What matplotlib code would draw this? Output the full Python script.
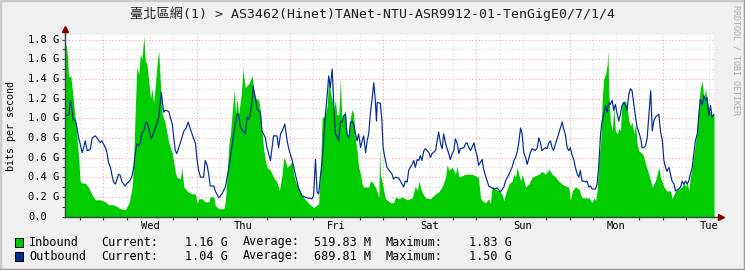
import matplotlib.pyplot as plt
import numpy as np
from matplotlib.patches import Rectangle
from matplotlib.lines import Line2D
from matplotlib.transforms import blended_transform_factory

# hours since the left edge of the graph (Tue ~14:00), values in Gbit/s
in_hours = [0.0, 0.3, 0.7, 0.9, 1.5, 2.0, 2.5, 3.0, 3.5, 3.9, 4.4, 5.2, 6.0, 7.0, 7.8, 9.1,
            10.4, 11.2, 12.5, 13.4, 14.2, 15.5, 16.0, 16.5, 17.3, 17.7, 18.1, 18.5, 19.0,
            19.4, 19.8, 20.3, 20.7, 21.1, 21.5, 22.0, 22.4, 22.8, 23.3, 23.7, 24.1, 24.5,
            25.0, 25.8, 26.7, 27.6, 28.4, 28.8, 29.7, 30.1, 30.6, 31.7, 32.7,
            33.6, 34.0, 34.4, 35.3, 36.1, 37.0, 37.4, 38.3, 38.7, 39.6, 40.9, 41.3, 41.7,
            42.2, 42.6, 43.0, 43.6, 43.9, 44.3, 44.7, 45.4, 45.8, 46.4, 47.3, 48.2, 48.6,
            49.0, 49.9, 50.3, 50.7, 51.2, 51.6, 52.0, 52.9, 53.7, 54.6, 55.2, 55.9, 56.3,
            56.7, 57.2, 58.0, 58.5, 58.9, 59.3, 60.6, 61.5, 62.8, 64.0, 65.3, 65.8, 66.2,
            67.0, 67.5, 67.9, 68.3, 68.8, 69.2, 69.6, 70.0, 70.5, 70.9, 71.3, 71.8, 72.2,
            72.6, 73.1, 73.5, 73.9, 74.3, 74.8, 75.2, 75.6, 76.1, 76.5, 76.9, 78.2, 78.6,
            79.1, 79.9, 80.4, 80.8, 81.0, 81.2, 81.6, 82.1, 82.5, 83.8, 84.6, 85.1, 85.9,
            86.8, 88.1, 89.4, 90.2, 90.7, 91.1, 91.5, 91.9, 92.8, 94.1, 95.4, 96.2, 97.1,
            98.0, 98.4, 98.8, 99.7,
            100.5, 101.0, 101.4, 103.1, 104.8, 106.4, 107.0, 107.4, 108.3, 109.1, 109.5,
            110.0, 110.8, 111.7, 112.5, 113.0, 113.4, 114.3, 115.1, 115.6, 116.0, 116.4,
            117.3, 117.7, 118.6, 119.4, 120.3, 122.0, 122.8, 123.7, 124.6, 125.4, 126.3,
            127.1, 128.0, 128.8, 129.7, 130.1, 130.6, 131.4, 132.3, 133.1,
            134.0, 134.9, 135.7, 136.2, 136.6, 137.0, 137.4, 137.9, 138.3, 138.7, 139.2,
            139.6, 139.8, 140.0, 140.4, 140.9, 141.3, 141.7, 142.2, 142.6, 143.0, 143.4,
            144.3, 144.7, 145.2, 145.6, 146.0, 146.5, 146.9, 147.3, 147.7, 148.6, 149.0,
            149.5, 150.3, 150.8, 151.2, 152.0, 152.9, 153.3, 154.2, 155.0, 155.9, 156.3,
            157.2, 158.9, 159.3, 159.8, 160.2, 160.6, 161.0, 161.5, 162.3, 162.8, 163.2,
            163.6, 164.1, 164.5, 164.9, 165.3, 165.8, 166.6, 167.1]
in_gbps = [1.70, 1.76, 1.60, 1.42, 1.43, 1.25, 1.05, 0.85, 0.60, 0.36, 0.34, 0.34, 0.30, 0.22, 0.17, 0.17,
           0.15, 0.12, 0.12, 0.10, 0.08, 0.07, 0.10, 0.14, 0.30, 0.60, 1.10, 1.52, 1.45,
           1.65, 1.60, 1.83, 1.58, 1.55, 1.40, 1.20, 1.30, 1.15, 1.35, 1.55, 1.69, 1.40,
           1.05, 0.95, 0.75, 0.65, 0.45, 0.40, 0.38, 0.50, 0.30, 0.25, 0.23,
           0.23, 0.13, 0.18, 0.18, 0.15, 0.15, 0.20, 0.20, 0.11, 0.08, 0.08, 0.16, 0.40,
           0.74, 0.84, 1.04, 1.30, 1.04, 1.20, 1.04, 1.25, 1.50, 1.31, 1.35, 1.43, 1.28,
           1.21, 1.18, 1.08, 0.87, 0.67, 0.57, 0.50, 0.47, 0.40, 0.35, 0.26, 0.43, 0.60,
           0.57, 0.50, 0.53, 0.57, 0.43, 0.36, 0.26, 0.19, 0.13, 0.09, 0.13, 0.50, 1.00,
           1.03, 1.13, 1.41, 1.28, 1.18, 1.08, 1.18, 1.03, 1.04, 1.40, 0.97, 1.04, 1.08,
           0.84, 0.80, 1.01, 1.09, 1.04, 0.77, 0.67, 0.50, 0.43, 0.33, 0.30, 0.30, 0.36,
           0.35, 0.30, 0.25, 0.19, 0.70, 0.43, 0.36, 0.26, 0.18, 0.14, 0.14, 0.20, 0.18,
           0.20, 0.17, 0.19, 0.31, 0.26, 0.36, 0.30, 0.25, 0.19, 0.18, 0.23, 0.25, 0.30,
           0.40, 0.53, 0.47, 0.50,
           0.43, 0.51, 0.40, 0.43, 0.43, 0.40, 0.19, 0.16, 0.14, 0.18, 0.13,
           0.31, 0.28, 0.26, 0.23, 0.16, 0.23, 0.33, 0.36, 0.43, 0.40, 0.50,
           0.36, 0.43, 0.30, 0.33, 0.40, 0.43, 0.46, 0.43, 0.48, 0.43, 0.40,
           0.36, 0.33, 0.31, 0.30, 0.16, 0.26, 0.30, 0.28, 0.19,
           0.19, 0.19, 0.14, 0.19, 0.16, 0.26, 0.57, 0.74, 1.18, 1.40, 1.45,
           1.55, 1.69, 1.28, 0.97, 0.87, 1.11, 0.87, 0.84, 0.90, 0.87, 1.16,
           1.18, 1.11, 0.97, 0.92, 0.96, 0.84, 0.94, 0.74, 0.67, 0.64, 0.61,
           0.53, 0.43, 0.36, 0.30, 0.36, 0.50, 0.40, 0.30, 0.26, 0.26, 0.18,
           0.26, 0.30, 0.36, 0.30, 0.35, 0.26, 0.40, 0.50, 0.74, 0.90, 1.18,
           1.31, 1.38, 1.18, 1.30, 1.20, 1.08, 1.03, 1.05]

out_hours = [0.0, 1.0, 1.4, 1.8, 2.1, 2.7, 3.1, 3.5, 3.9, 4.4, 4.8, 5.2, 5.7, 6.5, 7.0, 7.8,
             8.2, 9.1, 9.5, 10.4, 10.8, 11.2, 11.7, 12.1, 12.5, 13.0, 13.4, 13.8, 14.2,
             14.7, 15.5, 16.0, 16.8, 17.3, 17.7, 18.1, 18.5, 19.0, 19.4, 19.8, 20.3, 20.7,
             21.1, 21.5, 22.2, 22.8, 23.3, 23.7, 24.1, 24.8, 25.4, 25.8, 26.7, 27.6, 28.0,
             28.4, 28.8, 29.7, 30.6, 31.2, 31.7, 32.7,
             33.6, 34.0, 34.4, 34.9, 35.7, 36.1, 36.6, 37.0, 37.4, 38.3, 38.7, 39.6, 40.4,
             41.3, 42.2, 43.0, 43.7, 44.3, 44.7, 45.2, 46.0, 46.4, 46.9, 47.3, 47.7, 48.2,
             48.4, 48.9, 49.5, 50.3, 50.7, 51.6, 52.0, 52.9, 53.7, 54.6, 55.0, 55.5, 55.9,
             56.6, 57.2, 57.6, 58.5, 59.3, 60.2, 61.0, 62.3, 63.6, 64.0, 64.5, 64.9, 65.3,
             66.2,
             66.6, 67.0, 67.5, 67.9, 68.3, 68.8, 69.2, 69.6, 70.0, 70.5, 70.9, 71.3, 71.8,
             72.2, 72.6, 73.1, 73.5, 73.9, 74.3, 74.8, 75.2, 75.6, 76.1, 76.5, 76.9, 77.4,
             77.8, 78.2, 78.6, 79.1, 79.5, 79.9, 80.2, 80.4, 81.2, 81.6, 81.9, 82.5, 82.9,
             84.2, 84.6, 85.1, 85.9, 86.8, 87.2, 87.6, 88.1, 88.5, 88.9, 89.4, 89.8, 90.2,
             90.7, 91.1, 91.5, 91.9, 92.4, 92.8, 93.7, 94.1, 94.5, 95.4, 96.2, 96.7, 97.1,
             97.5, 98.0, 98.8, 99.2, 99.7,
             100.1, 100.5, 101.0, 101.4, 101.8, 102.7, 103.1, 103.5, 104.0, 104.4, 105.3,
             105.7, 106.1, 106.5, 107.4, 107.8, 108.3, 109.1, 109.5, 110.4, 111.3, 112.1,
             113.0, 113.4, 114.3, 115.1, 115.6, 116.0, 116.4, 116.8, 117.3, 117.7, 118.1,
             118.6, 119.0, 119.8, 120.3, 121.1, 121.6, 122.0, 122.4, 122.8, 123.7, 124.1,
             124.6, 125.0, 125.4, 125.8, 126.3, 127.1, 128.0, 128.4, 128.8, 129.3, 129.7,
             130.1, 130.6, 131.0, 131.4, 131.9, 132.3, 132.7, 133.1,
             133.6, 134.0, 134.4, 134.9, 135.3, 135.7, 136.6, 137.0, 137.4, 137.9, 138.3,
             138.7, 139.2, 139.6, 140.0, 140.4, 140.9, 141.3, 141.7, 142.2, 142.6, 143.0,
             143.4, 143.9, 144.3, 144.7, 145.2, 145.6, 146.0, 146.5, 146.9, 147.3, 147.7,
             148.2, 148.6, 149.0, 149.5, 149.9, 150.3, 150.8, 151.2, 151.6, 152.0, 152.9,
             153.3, 153.8, 154.2, 154.6, 155.0, 155.5, 155.9, 156.3, 156.8, 157.2, 158.0,
             158.5, 158.9, 159.3, 159.8, 160.2, 160.6, 161.0, 161.5, 161.9, 162.3, 162.8,
             163.2, 163.6, 164.1, 164.5, 164.9, 165.3, 165.8, 166.2, 166.6, 167.1]
out_gbps = [1.03, 1.03, 1.18, 1.10, 0.98, 0.98, 0.90, 0.80, 0.74, 0.65, 0.70, 0.77, 0.67, 0.68, 0.80, 0.82,
            0.80, 0.75, 0.77, 0.70, 0.65, 0.55, 0.50, 0.42, 0.35, 0.33, 0.38, 0.43, 0.42,
            0.35, 0.31, 0.34, 0.37, 0.42, 0.50, 0.65, 0.74, 0.72, 0.75, 0.85, 0.87, 0.95,
            0.96, 0.90, 0.79, 0.85, 0.90, 0.95, 1.00, 1.26, 1.06, 1.08, 1.07, 0.94, 0.80,
            0.67, 0.64, 0.75, 0.87, 0.90, 0.96, 0.84,
            0.74, 0.58, 0.47, 0.40, 0.40, 0.57, 0.52, 0.43, 0.31, 0.31, 0.26, 0.19, 0.23,
            0.30, 0.50, 0.72, 0.91, 1.04, 1.04, 0.90, 0.87, 0.84, 1.01, 0.99, 1.04, 1.18,
            1.33, 1.23, 1.09, 1.06, 0.87, 0.80, 0.70, 0.57, 0.82, 0.82, 0.70, 0.84, 0.87,
            0.94, 0.77, 0.69, 0.57, 0.43, 0.28, 0.21, 0.19, 0.18, 0.21, 0.58, 0.25, 0.23,
            0.57,
            0.77, 1.01, 1.23, 1.43, 1.31, 1.50, 1.14, 0.84, 0.82, 0.77, 0.97, 0.96, 1.03,
            1.04, 0.84, 0.80, 0.96, 0.97, 0.94, 0.84, 0.77, 0.84, 0.70, 0.77, 0.82, 0.65,
            0.77, 0.84, 1.04, 1.21, 1.36, 1.18, 0.97, 1.16, 1.15, 0.97, 0.70, 0.57, 0.50,
            0.43, 0.38, 0.40, 0.39, 0.33, 0.30, 0.36, 0.35, 0.47, 0.50, 0.53, 0.57, 0.50,
            0.58, 0.57, 0.62, 0.57, 0.67, 0.69, 0.65, 0.60, 0.64, 0.67, 0.86, 0.74, 0.69,
            0.84, 0.74, 0.64, 0.58, 0.64,
            0.67, 0.79, 0.74, 0.64, 0.69, 0.70, 0.74, 0.75, 0.70, 0.67, 0.75,
            0.67, 0.62, 0.52, 0.58, 0.48, 0.41, 0.31, 0.30, 0.28, 0.29, 0.25,
            0.30, 0.36, 0.43, 0.50, 0.57, 0.60, 0.65, 0.74, 0.90, 0.84, 0.65,
            0.60, 0.53, 0.65, 0.69, 0.67, 0.70, 0.80, 0.75, 0.67, 0.70, 0.69,
            0.75, 0.77, 0.70, 0.67, 0.74, 0.84, 0.96, 0.89, 0.84, 0.70, 0.67,
            0.70, 0.62, 0.58, 0.50, 0.43, 0.40, 0.47, 0.36,
            0.36, 0.35, 0.36, 0.30, 0.31, 0.28, 0.28, 0.33, 0.50, 0.84, 0.97,
            1.03, 1.13, 1.06, 1.16, 1.14, 1.18, 1.08, 1.14, 1.04, 0.97, 1.04,
            1.13, 1.16, 1.13, 1.08, 1.25, 1.30, 1.28, 1.13, 1.01, 0.91, 0.86,
            0.80, 0.70, 0.70, 0.72, 0.80, 1.01, 1.28, 0.87, 0.97, 1.01, 1.04,
            0.87, 0.77, 0.57, 0.50, 0.46, 0.50, 0.43, 0.36, 0.33, 0.26, 0.28,
            0.30, 0.36, 0.33, 0.36, 0.33, 0.36, 0.43, 0.50, 0.64, 0.77, 0.84,
            1.04, 1.19, 1.14, 1.23, 1.18, 1.21, 1.03, 1.13, 1.01, 1.04]

days = ['Wed', 'Thu', 'Fri', 'Sat', 'Sun', 'Mon', 'Tue']
first_midnight = 9.9      # Wed 00:00, hours after the left edge
y_ticks = [0.0, 0.2, 0.4, 0.6, 0.8, 1.0, 1.2, 1.4, 1.6, 1.8]
y_tick_labels = ['0.0', '0.2 G', '0.4 G', '0.6 G', '0.8 G', '1.0 G', '1.2 G', '1.4 G', '1.6 G', '1.8 G']

series = ['Inbound', 'Outbound']
current = ['1.16 G', '1.04 G']
average = ['519.83 M', '689.81 M']
maximum = ['1.83 G', '1.50 G']
colors = ['#00CC00', '#002A97']

title = '臺北區網(1) > AS3462(Hinet)TANet-NTU-ASR9912-01-TenGigE0/7/1/4'

W, H = 745, 270
mono = ['DejaVu Sans Mono', 'Noto Sans CJK TC']

fig = plt.figure(figsize=(W / 100, H / 100), dpi=100, facecolor='#F0F0F0')
ax = fig.add_axes([65 / W, 1 - 216.5 / H, 649 / W, 181.5 / H])
ax.set_facecolor('white')
ax.set_xlim(0, 167.1)
ax.set_ylim(0, 1.846)

# grid
dot = (0, (1, 2))
for i in range(1, 19):
    c = '#F0A8A8' if i % 2 == 0 else '#D6D6D6'
    ax.axhline(i * 0.1, color=c, lw=0.8, ls=dot, zorder=0)
t = first_midnight - 6
k = -1
while t < 167.1:
    c = '#F0A8A8' if k % 4 == 0 else '#D6D6D6'
    ax.axvline(t, color=c, lw=0.8, ls=dot, zorder=0)
    t += 6
    k += 1

ax.fill_between(in_hours, in_gbps, 0, color=colors[0], lw=0, zorder=2)
ax.plot(out_hours, out_gbps, color=colors[1], lw=0.85, zorder=3)

# axes / ticks
for s in ['top', 'right']:
    ax.spines[s].set_visible(False)
for s in ['left', 'bottom']:
    ax.spines[s].set_color('#2C4D43')
    ax.spines[s].set_linewidth(1.0)
    ax.spines[s].set_zorder(4)

ax.set_yticks(np.arange(0, 1.85, 0.1))
ax.set_yticklabels([])
ax.tick_params(axis='y', length=2.5, width=0.8, color='#2C4D43', direction='out')

noon = [first_midnight + 12 + 24 * i for i in range(len(days))]
ax.set_xticks(noon)
ax.set_xticklabels(days, fontsize=7.5, family='DejaVu Sans Mono')
ax.tick_params(axis='x', which='major', length=0, pad=3)
ax.set_xticks([first_midnight - 6 + 6 * i for i in range(28)], minor=True)
ax.tick_params(axis='x', which='minor', length=2.5, width=0.8, color='#2C4D43', direction='out')

ytr = blended_transform_factory(fig.transFigure, ax.transData)
for v, lab in zip(y_ticks, y_tick_labels):
    ax.text(28 / W, v, lab, transform=ytr, ha='left', va='center',
            fontsize=7.5, family='DejaVu Sans Mono')

# axis arrows
ax.add_line(Line2D([1.0, 1.008], [0, 0], transform=ax.transAxes, color='#2C4D43',
                   lw=1.0, clip_on=False))
ax.plot([1.011], [0], marker='>', ms=5, color='#7F0000', transform=ax.transAxes, clip_on=False)
ax.add_line(Line2D([0, 0], [1.0, 1.02], transform=ax.transAxes, color='#2C4D43',
                   lw=1.0, clip_on=False))
ax.plot([0], [1.035], marker='^', ms=5, color='#7F0000', transform=ax.transAxes, clip_on=False)

fig.text(11 / W, 1 - 126 / H, 'bits per second', rotation=90, ha='center', va='center',
         fontsize=7.2, family='DejaVu Sans Mono')
fig.text(372.5 / W, 1 - 14 / H, title, ha='center', va='center', fontsize=9.5, family=mono,
         color='#202020')
fig.text(736 / W, 1 - 60 / H, 'RRDTOOL / TOBI OETIKER', rotation=270, ha='center',
         va='center', fontsize=6, family='DejaVu Sans Mono', color='#AAAAAA')

# legend
for i in range(2):
    yy = 1 - (242 + 14 * i) / H
    fig.patches.append(Rectangle((15 / W, yy - 4.5 / H), 8 / W, 9 / H, transform=fig.transFigure,
                                 facecolor=colors[i], edgecolor='black', lw=0.7))
    kw = dict(fontsize=8.5, family='DejaVu Sans Mono', va='center')
    fig.text(29 / W, yy, series[i], ha='left', **kw)
    fig.text(101 / W, yy, 'Current:', ha='left', **kw)
    fig.text(228 / W, yy, current[i], ha='right', **kw)
    fig.text(243 / W, yy, 'Average:', ha='left', **kw)
    fig.text(371 / W, yy, average[i], ha='right', **kw)
    fig.text(385 / W, yy, 'Maximum:', ha='left', **kw)
    fig.text(512 / W, yy, maximum[i], ha='right', **kw)

# 3d frame
fig.add_artist(Line2D([0, 0, 1], [0, 1, 1], transform=fig.transFigure, color='#CBCBCB', lw=2.5))
fig.add_artist(Line2D([0, 1, 1], [0, 0, 1], transform=fig.transFigure, color='#999999', lw=2.5))

fig.savefig('out.png', dpi=100, facecolor=fig.get_facecolor())
